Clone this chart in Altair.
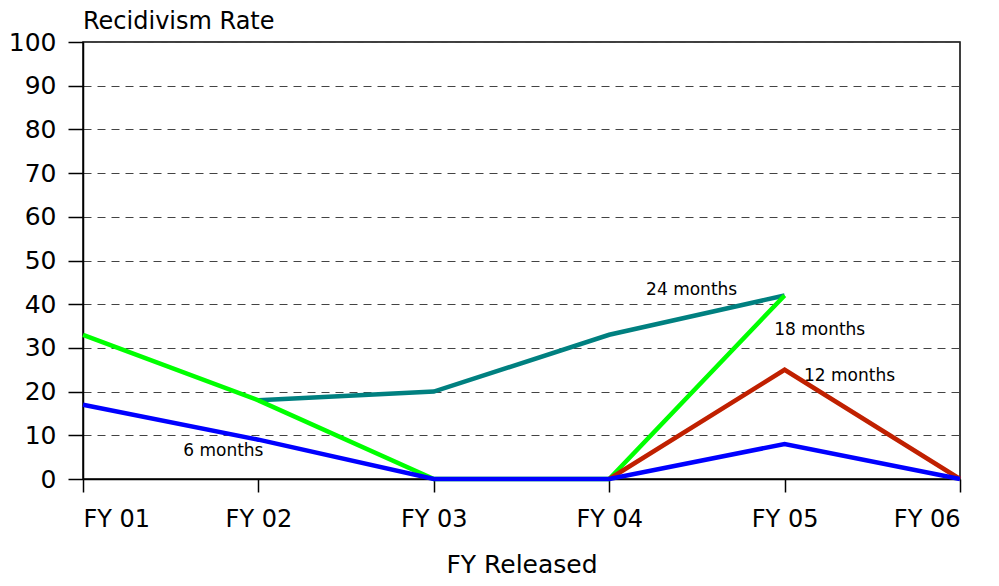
import altair as alt
import pandas as pd

fy_labels = ["FY 01", "FY 02", "FY 03", "FY 04", "FY 05", "FY 06"]
series_names = ["24 months", "18 months", "12 months", "6 months"]
series_colors = ["#008080", "#00ff00", "#c02000", "#0000ff"]

idx_24 = [1, 2, 3, 4]
val_24 = [18, 20, 33, 42]
idx_18 = [0, 1, 2, 3, 4]
val_18 = [33, 18, 0, 0, 42]
idx_12 = [3, 4, 5]
val_12 = [0, 25, 0]
idx_6 = [0, 1, 2, 3, 4, 5]
val_6 = [17, 9, 0, 0, 8, 0]

label_x = [3.47, 4.20, 4.37, 0.80]
label_y = [43.2, 34.1, 23.6, 6.4]

FONT = "DejaVu Sans"
label_expr = "[" + ",".join("'%s'" % s for s in fy_labels) + "][datum.value]"

x_scale = alt.Scale(domain=[0, len(fy_labels) - 1], nice=False, zero=False)
y_scale = alt.Scale(domain=[0, 100], nice=False)

x_axis = alt.Axis(values=list(range(len(fy_labels))), labelExpr=label_expr,
                  title="FY Released", grid=False, tickSize=13, labelPadding=15,
                  labelFontSize=24, titleFontSize=25, titlePadding=21,
                  titleFontWeight="normal", domainColor="#000", tickColor="#000",
                  domainWidth=1.5, tickWidth=1.5, labelColor="#000", titleColor="#000",
                  labelFont=FONT, titleFont=FONT)
y_axis = alt.Axis(values=list(range(0, 101, 10)), title=None, grid=True,
                  gridDash=[8, 6], gridColor="#444", gridWidth=1,
                  tickSize=15, labelPadding=12, labelFontSize=25,
                  domainColor="#000", tickColor="#000", domainWidth=1.5, tickWidth=1.5,
                  labelColor="#000", labelFont=FONT)

series = [(idx_24, val_24), (idx_18, val_18), (idx_12, val_12), (idx_6, val_6)]
layers = []
for k, (ix, vals) in enumerate(series):
    df = pd.DataFrame({"i": ix, "v": vals, "s": series_names[k]})
    layers.append(
        alt.Chart(df).mark_line(color=series_colors[k], strokeWidth=4.5, clip=False)
        .encode(x=alt.X("i:Q", scale=x_scale, axis=x_axis),
                y=alt.Y("v:Q", scale=y_scale, axis=y_axis))
    )

lab_df = pd.DataFrame({"i": label_x, "v": label_y, "t": series_names})
labels = alt.Chart(lab_df).mark_text(font=FONT, fontSize=17, color="#000",
                                     align="center", baseline="middle").encode(
    x=alt.X("i:Q", scale=x_scale, axis=x_axis),
    y=alt.Y("v:Q", scale=y_scale, axis=y_axis),
    text="t:N",
)

chart = alt.layer(*layers, labels).properties(
    width=877, height=437,
    title=alt.TitleParams("Recidivism Rate", anchor="start", frame="group",
                          fontSize=24, font=FONT, fontWeight="normal",
                          color="#000", offset=0, dy=4),
    autosize=alt.AutoSizeParams(type="none"),
    padding={"left": 75, "top": 34, "right": 31, "bottom": 98},
).configure(background="white").configure_view(stroke="#000", strokeWidth=1.5)

chart.save("out.html", embed_options={"renderer": "svg", "actions": False})
